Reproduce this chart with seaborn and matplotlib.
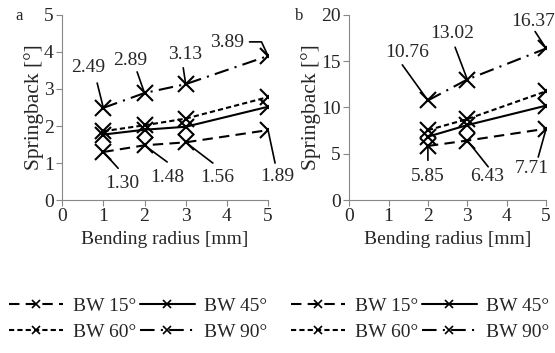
import numpy as np
import pandas as pd
import matplotlib
matplotlib.use('Agg')
import matplotlib.pyplot as plt
import seaborn as sns

sns.set_style('ticks')
plt.rcParams['font.family'] = ['Liberation Serif', 'DejaVu Serif']

# -------------------------------
# data
# -------------------------------
radius_a = [1, 2, 3, 5]
bw15_a = [1.30, 1.48, 1.56, 1.89]
bw45_a = [1.77, 1.90, 1.98, 2.52]
bw60_a = [1.86, 2.02, 2.20, 2.78]
bw90_a = [2.49, 2.89, 3.13, 3.89]

radius_b = [2, 3, 5]
bw15_b = [5.85, 6.43, 7.71]
bw45_b = [6.85, 8.10, 10.20]
bw60_b = [7.55, 8.75, 11.75]
bw90_b = [10.76, 13.02, 16.37]

labels = ['BW 15°', 'BW 45°', 'BW 60°', 'BW 90°']
styles = [(0, (5, 3)), '-', (0, (2.5, 1.5)), (0, (7, 3, 1, 3))]

# annotation text positions (data coords): (value, point x, text x, text y, line-start x, line-start y)
notes_a = [
    (2.49, 1, 0.63, 3.57, 0.85, 3.16),
    (2.89, 2, 1.65, 3.78, 1.82, 3.46),
    (3.13, 3, 2.99, 3.92, 2.94, 3.57),
    (1.30, 1, 1.46, 0.46, 1.36, 0.86),
    (1.48, 2, 2.55, 0.62, 2.55, 1.03),
    (1.56, 3, 3.76, 0.62, 3.66, 1.00),
    (1.89, 5, 5.22, 0.65, 5.17, 1.00),
]
notes_b = [
    (10.76, 2, 1.47, 15.9, 1.35, 14.6),
    (13.02, 3, 2.61, 18.0, 2.69, 16.5),
    (16.37, 5, 4.66, 19.3, 4.72, 18.2),
    (5.85, 2, 2.00, 2.5, 2.00, 4.3),
    (6.43, 3, 3.50, 2.5, 3.53, 3.6),
    (7.71, 5, 4.64, 3.45, 4.80, 4.65),
]

fs = 14

fig = plt.figure(figsize=(5.55, 3.53), dpi=100)
ax_a = fig.add_axes([0.112, 0.433, 0.371, 0.525])
ax_b = fig.add_axes([0.629, 0.433, 0.355, 0.525])

def draw_panel(ax, x, series, ymax, yticks):
    for vals, lab, ls in zip(series, labels, styles):
        sns.lineplot(x=x, y=vals, ax=ax, color='black', marker='x',
                     markersize=11, markeredgewidth=1.5, markeredgecolor='black',
                     linewidth=1.5, linestyle=ls, label=lab, legend=False)
    ax.set_xlim(0, 5)
    ax.set_ylim(0, ymax)
    ax.set_xticks(range(6))
    ax.set_yticks(yticks)
    ax.set_xlabel('Bending radius [mm]', fontsize=fs, labelpad=4)
    ax.set_ylabel('Springback [°]', fontsize=15.5, labelpad=0)
    ax.tick_params(labelsize=fs, color='#888888', length=4, pad=2)
    for s in ['top', 'right']:
        ax.spines[s].set_visible(False)
    for s in ['left', 'bottom']:
        ax.spines[s].set_color('#888888')

def add_notes(ax, notes):
    for val, px, tx, ty, lx, ly in notes:
        ax.text(tx, ty, f'{val:.2f}', ha='center', va='center', fontsize=fs, clip_on=False)
        ax.annotate('', xy=(px, val), xytext=(lx, ly), annotation_clip=False,
                    arrowprops=dict(arrowstyle='-', color='black', lw=1.2,
                                    shrinkA=0, shrinkB=0))

draw_panel(ax_a, radius_a, [bw15_a, bw45_a, bw60_a, bw90_a], 5, range(6))
draw_panel(ax_b, radius_b, [bw15_b, bw45_b, bw60_b, bw90_b], 20, range(0, 21, 5))
add_notes(ax_a, notes_a)
add_notes(ax_b, notes_b)

# 3.89 label with bent leader
ax_a.text(4.0, 4.24, '3.89', ha='center', va='center', fontsize=fs)
ax_a.annotate('', xy=(5, 3.89), xytext=(4.55, 4.27), annotation_clip=False,
              arrowprops=dict(arrowstyle='-', color='black', lw=1.2, shrinkA=0, shrinkB=0,
                              connectionstyle='angle,angleA=0,angleB=115,rad=0'))

fig.text(0.027, 0.955, 'a', fontsize=12, va='center')
fig.text(0.532, 0.955, 'b', fontsize=12, va='center')

for ax, cx in [(ax_a, 0.249), (ax_b, 0.757)]:
    h, l = ax.get_legend_handles_labels()
    order = [0, 2, 1, 3]
    leg = fig.legend([h[i] for i in order], [l[i] for i in order], ncol=2,
                     loc='center', bbox_to_anchor=(cx, 0.096), frameon=False,
                     fontsize=14, handlelength=2.8, columnspacing=0.2,
                     handletextpad=0.5, labelspacing=0.4, borderpad=0)
    for ln in leg.get_lines():
        ln.set_markersize(6)
        ln.set_markeredgewidth(1.2)

fig.savefig('out.png', dpi=100)
